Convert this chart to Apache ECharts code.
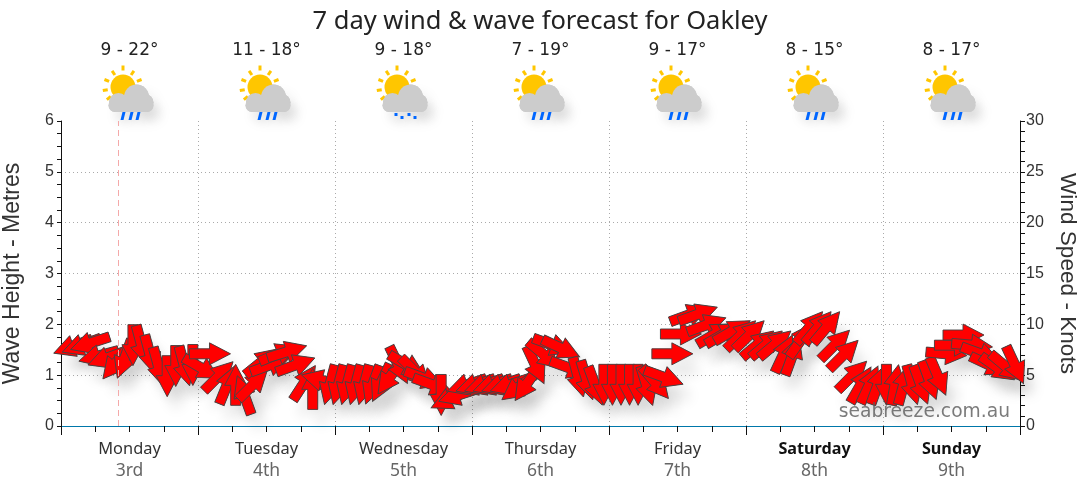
<!DOCTYPE html>
<html><head><meta charset="utf-8">
<style>html,body{margin:0;padding:0;background:#fff}#c{width:1080px;height:490px}</style>
<script src="https://cdn.jsdelivr.net/npm/echarts@6/dist/echarts.min.js"></script>
</head><body><div id="c"></div>
<script>
const dayNames=['Monday','Tuesday','Wednesday','Thursday','Friday','Saturday','Sunday'];
const dayDates=['3rd','4th','5th','6th','7th','8th','9th'];
const tempRanges=['9 - 22°','11 - 18°','9 - 18°','7 - 19°','9 - 17°','8 - 15°','8 - 17°'];
const iconKinds=['rain','rain','showers','rain','rain','rain','rain'];
const dayMidHours=[12,36,60,84,108,132,156];
const nowHour=10;
const arrowHours=[2.1,3.6,5.1,6.6,8.1,9.6,11.1,12.6,14.1,15.6,17.1,18.6,20.1,21.6,23.1,24.6,26.1,27.6,29.1,30.6,32.1,33.6,35.1,36.6,38.1,39.6,41.1,42.6,44.1,45.6,47.1,48.6,50.1,51.6,53.1,54.6,56.1,57.6,59.1,60.6,62.1,63.6,65.1,66.6,68.1,69.6,71.1,72.6,74.1,75.6,77.1,78.6,80.1,81.6,83.1,84.6,86.1,87.6,89.1,90.6,92.1,93.6,95.1,96.6,98.1,99.6,101.1,102.6,104.1,105.6,107.1,108.6,110.1,111.6,113.1,114.6,116.1,117.6,119.1,120.6,122.1,123.6,125.1,126.6,128.1,129.6,131.1,132.6,134.1,135.6,137.1,138.6,140.1,141.6,143.1,144.6,146.1,147.6,149.1,150.6,152.1,153.6,155.1,156.6,158.1,159.6,161.1,162.6,164.1,165.6,167.1];
const arrowHeights=[1.57,1.59,1.63,1.38,1.34,1.24,1.32,1.59,1.59,1.40,1.16,.98,1.18,1.18,1.20,1.14,1.42,.98,.81,.81,.61,.81,1.26,1.20,1.42,1.46,1.20,.85,.73,.90,.81,.81,.81,.81,.81,.81,.85,.96,1.20,1.20,1.06,.94,.81,.61,.53,.61,.81,.81,.81,.81,.81,.81,.76,.83,1.20,1.40,1.59,1.53,1.14,.96,.90,.79,.81,.81,.81,.81,.81,.79,.85,.96,1.42,1.81,2.19,2.20,1.99,1.81,1.81,1.87,1.79,1.79,1.61,1.61,1.61,1.42,1.38,1.69,1.94,1.94,1.94,1.60,1.40,.99,.81,.81,.81,.81,.81,.81,.81,.81,.90,.98,1.42,1.59,1.79,1.59,1.42,1.20,1.14,1.16,1.20];
const arrowHeadings=[250,250,252,255,250,219,200,180,165,165,165,180,180,165,180,120,90,45,22,0,340,45,51,70,68,73,70,33,0,285,195,195,195,195,195,200,205,215,154,120,135,110,110,180,245,252,252,252,252,252,252,252,233,215,155,130,110,115,110,165,163,160,180,180,180,180,180,163,140,110,90,90,70,70,70,60,60,60,46,46,50,50,50,25,20,35,40,40,40,45,45,45,30,25,20,180,10,15,165,160,160,157,95,90,90,95,110,115,125,130,155];

const chart=echarts.init(document.getElementById('c'),null,{renderer:'canvas'});
const SANS='"Liberation Sans",Arial,sans-serif', UI='"Noto Sans",Tahoma,sans-serif', WIDE='"DejaVu Sans",Verdana,sans-serif';
const L=41,SW=10,HW=22,HL=21;
const arrowPts=[[-L/2,-SW/2],[L/2-HL,-SW/2],[L/2-HL,-HW/2],[L/2,0],[L/2-HL,HW/2],[L/2-HL,SW/2],[-L/2,SW/2]];
function arrowItem(shadow){return function(params,api){
  const p=api.coord([api.value(0),api.value(1)]);
  const rot=(90-api.value(2))*Math.PI/180;
  const style=shadow?{fill:'#f00',stroke:null,shadowBlur:14,shadowOffsetX:9,shadowOffsetY:14,shadowColor:'rgba(0,0,0,0.11)'}:{fill:'#ff0000',stroke:'#444',lineWidth:0.9};
  return {type:'polygon',x:p[0],y:p[1],rotation:rot,shape:{points:arrowPts},style,silent:true};
};}
const arrowData=arrowHours.map((h,i)=>[h,arrowHeights[i],arrowHeadings[i]]);
function iconItem(params,api){
  const p=api.coord([api.value(0),6]);
  const kind=iconKinds[params.dataIndex];
  const ch=[];
  const cloudShapes=[
    {type:'circle',shape:{cx:7,cy:-24,r:12.5}},
    {type:'circle',shape:{cx:-11,cy:-18.5,r:9.5}},
    {type:'circle',shape:{cx:15.5,cy:-18.5,r:8.5}},
    {type:'rect',shape:{x:-21,y:-22,width:45,height:13,r:6.5}}
  ];
  cloudShapes.forEach(s=>ch.push(Object.assign({},s,{style:{fill:'#ccc',shadowBlur:14,shadowOffsetX:7,shadowOffsetY:9,shadowColor:'rgba(0,0,0,0.08)'}})));
  ch.push({type:'circle',shape:{cx:-6.5,cy:-34,r:12.5},style:{fill:'#ffc600'}});
  const rays=[[0,-19],[-34,-17],[34,-17],[-68,-17.5],[68,-17.5],[-100,-18],[-128,-18]];
  rays.forEach(r=>{const a=r[0]*Math.PI/180;const d=-r[1];
    ch.push({type:'rect',x:-6.5+Math.sin(a)*d,y:-34-Math.cos(a)*d,rotation:-a,shape:{x:-1.5,y:-2.5,width:3,height:5},style:{fill:'#ffc600'}});});
  cloudShapes.forEach(s=>ch.push(Object.assign({},s,{style:{fill:'#ccc'}})));
  if(kind==='rain'){[-6,2,9].forEach(x=>ch.push({type:'polygon',x:x,y:-5,shape:{points:[[-1,-4],[2,-4],[0,4],[-3,4]]},style:{fill:'#0066ff'}}));}
  else{[[-9,-8],[-3,-5],[4,-8],[10,-5]].forEach(q=>ch.push({type:'rect',shape:{x:q[0],y:q[1],width:3,height:3},style:{fill:'#0066ff'}}));}
  return {type:'group',x:p[0],y:p[1],children:ch,silent:true};
}
chart.setOption({
  animation:false,
  title:{text:'7 day wind & wave forecast for Oakley',left:'center',top:4,textStyle:{fontFamily:UI,fontSize:25.5,fontWeight:'normal',color:'#222'}},
  grid:{left:61,right:60,top:121,bottom:64,outerBoundsMode:'none'},
  xAxis:[
    {type:'value',min:0,max:168,interval:24,position:'bottom',
     axisLine:{onZero:false,lineStyle:{color:'#0077aa',width:1}},
     axisTick:{length:9,lineStyle:{color:'#111'}},
     minorTick:{show:true,splitNumber:4,length:6,lineStyle:{color:'#111'}},
     axisLabel:{show:false},
     splitLine:{show:true,showMinLine:false,showMaxLine:false,lineStyle:{type:[1,3],color:'#aaa'}}},
    {type:'category',data:dayNames,position:'bottom',boundaryGap:true,
     axisLine:{show:false},axisTick:{show:false},splitLine:{show:false},
     axisLabel:{interval:0,margin:12,lineHeight:22,
       formatter:(v,i)=>`{${i>=5?'b':'d'}|${v}}\n{n|${dayDates[i]}}`,
       rich:{d:{fontFamily:UI,fontSize:16.4,color:'#333',lineHeight:22},
             b:{fontFamily:UI,fontSize:16.2,color:'#111',fontWeight:'bold',lineHeight:22},
             n:{fontFamily:UI,fontSize:17.5,color:'#666',lineHeight:22}}}},
    {type:'category',data:tempRanges,position:'top',boundaryGap:true,
     axisLine:{show:false},axisTick:{show:false},splitLine:{show:false},
     axisLabel:{interval:0,margin:62,fontFamily:WIDE,fontSize:17,color:'#222'}}
  ],
  yAxis:[
    {type:'value',min:0,max:6,interval:1,position:'left',
     name:'Wave Height - Metres',nameLocation:'middle',nameGap:37,nameRotate:90,
     nameTextStyle:{fontFamily:SANS,fontSize:23,color:'#333'},
     axisLine:{show:true,lineStyle:{color:'#111'}},
     axisTick:{show:true,length:4,lineStyle:{color:'#111'}},
     minorTick:{show:true,splitNumber:4,length:4,lineStyle:{color:'#111'}},
     axisLabel:{fontFamily:SANS,fontSize:16,color:'#333',margin:7},
     splitLine:{show:true,showMinLine:false,showMaxLine:false,lineStyle:{type:[1,3],color:'#aaa'}}},
    {type:'value',min:0,max:30,interval:5,position:'right',
     name:'Wind Speed - Knots',nameLocation:'middle',nameGap:36,nameRotate:-90,
     nameTextStyle:{fontFamily:SANS,fontSize:22.6,color:'#333'},
     axisLine:{show:true,lineStyle:{color:'#111'}},
     axisTick:{show:true,length:5,lineStyle:{color:'#111'}},
     minorTick:{show:true,splitNumber:5,length:5,lineStyle:{color:'#111'}},
     axisLabel:{fontFamily:SANS,fontSize:16,color:'#333',margin:6},
     splitLine:{show:false}}
  ],
  series:[
    {type:'custom',name:'arrow shadows',xAxisIndex:0,yAxisIndex:0,z:2,silent:true,renderItem:arrowItem(true),data:arrowData,
     markLine:{silent:true,symbol:'none',label:{show:false},lineStyle:{type:[6,4],color:'#f4a9a9',width:1},data:[{xAxis:nowHour}]}},
    {type:'custom',name:'arrows',xAxisIndex:0,yAxisIndex:0,z:3,silent:true,renderItem:arrowItem(false),data:arrowData},
    {type:'custom',name:'icons',xAxisIndex:0,yAxisIndex:0,z:4,silent:true,renderItem:iconItem,data:dayMidHours.map(h=>[h])}
  ],
  graphic:[{type:'text',right:70,bottom:68,z:10,silent:true,style:{text:'seabreeze.com.au',fontFamily:WIDE,fontSize:18.7,fill:'rgba(90,90,90,0.8)'}}]
});
</script></body></html>
